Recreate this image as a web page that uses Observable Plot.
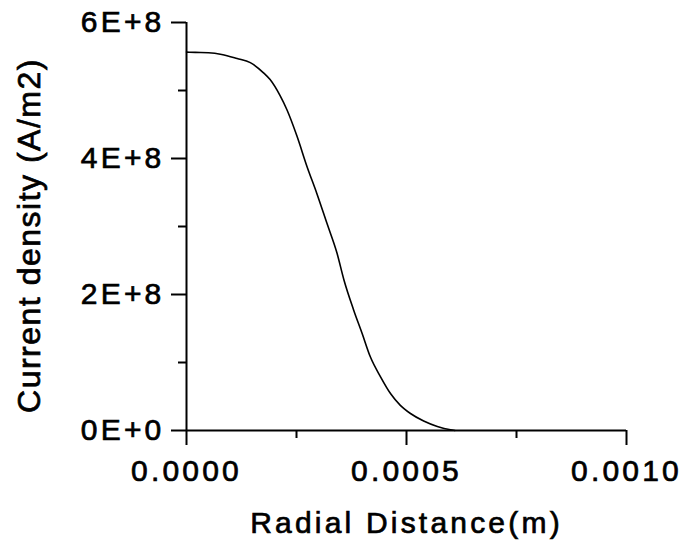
<!DOCTYPE html>
<html>
<head>
<meta charset="utf-8">
<script src="https://cdn.jsdelivr.net/npm/d3@7"></script>
<script src="https://cdn.jsdelivr.net/npm/@observablehq/plot@0.6"></script>
<style>
  html, body { margin: 0; padding: 0; background: #fff; }
  #chart svg { display: block; }
</style>
</head>
<body>
<div id="chart"></div>
<script>
// Radial distance (m)
const radius = [0, 0.00002, 0.00005, 0.00008, 0.000115, 0.000145, 0.000175, 0.00019, 0.000213, 0.000228,
  0.000251, 0.000274, 0.000296, 0.000319, 0.000342, 0.000358, 0.00038, 0.000399, 0.000418, 0.000441,
  0.000464, 0.000486, 0.000509, 0.000539, 0.00057, 0.0006, 0.00061];
// Current density (A/m2)
const density = [5.565e8, 5.56e8, 5.555e8, 5.53e8, 5.47e8, 5.41e8, 5.26e8, 5.16e8, 4.92e8, 4.72e8,
  4.33e8, 3.88e8, 3.49e8, 3.05e8, 2.61e8, 2.21e8, 1.77e8, 1.43e8, 1.08e8, 0.79e8,
  0.54e8, 0.37e8, 0.25e8, 0.14e8, 0.06e8, 0.01e8, 0];

const xTicks = [0, 0.0005, 0.001];
const xTickLabels = ["0.0000", "0.0005", "0.0010"];
const xMinorTicks = [0.00025, 0.00075];
const yTicks = [0, 2e8, 4e8, 6e8];
const yTickLabels = ["0E+0", "2E+8", "4E+8", "6E+8"];
const yMinorTicks = [1e8, 3e8, 5e8];
const xTitle = "Radial Distance(m)";
const yTitle = "Current density (A/m2)";

const data = radius.map((r, i) => ({r, j: density[i]}));

const font = "'Liberation Sans', Arial, sans-serif";

const plot = Plot.plot({
  width: 684,
  height: 542,
  marginLeft: 186,
  marginRight: 58,
  marginTop: 22,
  marginBottom: 112,
  style: {fontFamily: font, fontSize: "30px", color: "#000", background: "#fff", overflow: "visible"},
  x: {domain: [0, 0.001]},
  y: {domain: [0, 6e8]},
  marks: [
    Plot.axisX({ticks: xMinorTicks, tickFormat: () => "", tickSize: 8, strokeWidth: 2, label: null}),
    Plot.axisY({ticks: yMinorTicks, tickFormat: () => "", tickSize: 8, strokeWidth: 2, label: null}),
    Plot.axisX({ticks: xTicks, tickFormat: (d) => xTickLabels[xTicks.indexOf(d)], tickSize: 15, tickPadding: 14,
      strokeWidth: 2, fontSize: 30, label: null}),
    Plot.axisY({ticks: yTicks, tickFormat: (d) => yTickLabels[yTicks.indexOf(d)], tickSize: 15, tickPadding: 7,
      strokeWidth: 2, fontSize: 30, label: null}),
    Plot.ruleX([0], {strokeWidth: 2}),
    Plot.ruleY([0], {strokeWidth: 2}),
    Plot.line(data, {x: "r", y: "j", stroke: "#000", strokeWidth: 1.6, curve: "monotone-x"}),
    Plot.text([xTitle], {text: (d) => d, frameAnchor: "bottom", lineAnchor: "bottom", dy: 102, fontSize: 30}),
    Plot.text([yTitle], {text: (d) => d, frameAnchor: "left", rotate: -90, lineAnchor: "top", textAnchor: "middle",
      dx: -169, dy: 9, fontSize: 32})
  ]
});

plot.querySelectorAll("text").forEach((t) => {
  t.style.letterSpacing = t.textContent === yTitle ? "1.5px" : "3.2px";
  t.style.stroke = "#000";
  t.style.strokeWidth = "0.7px";
});

document.getElementById("chart").appendChild(plot);
</script>
</body>
</html>
